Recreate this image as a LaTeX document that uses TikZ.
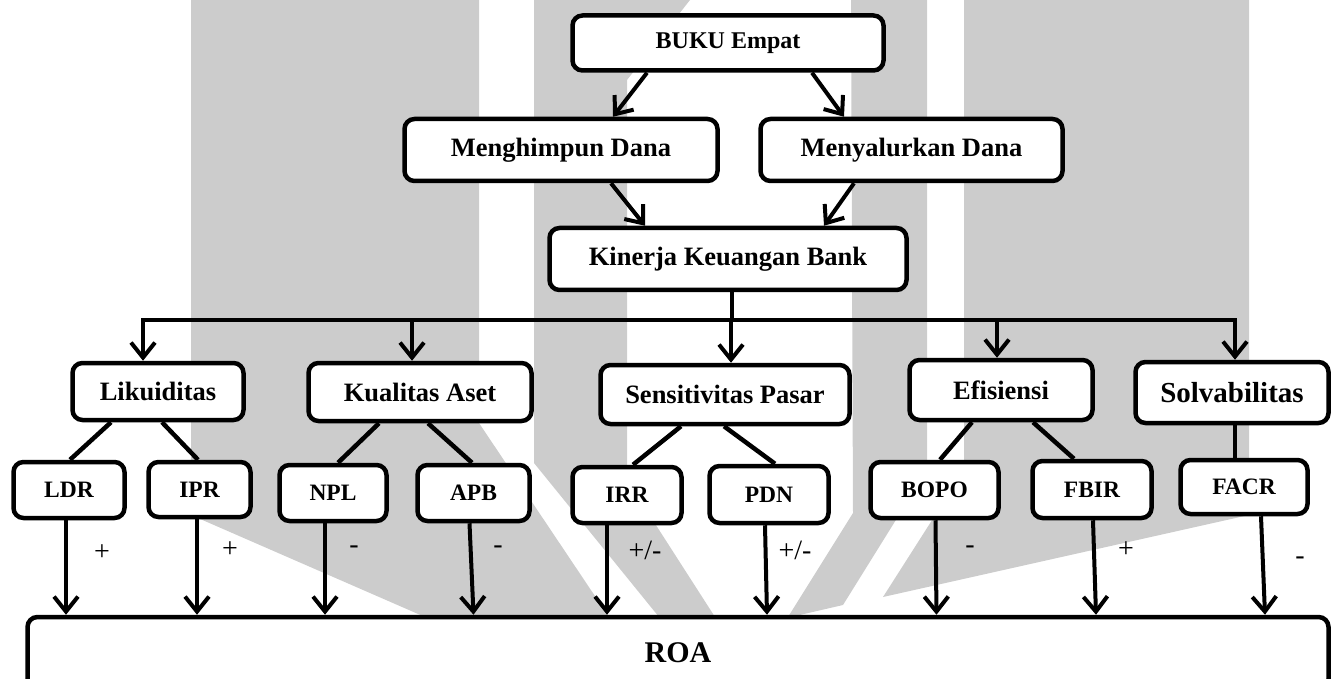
\documentclass[tikz,border=0pt]{standalone}
\usepackage{fontspec}
\setmainfont{Liberation Serif}
\usetikzlibrary{arrows.meta}
\definecolor{wm}{gray}{0.8}
\tikzset{
  box/.style={draw, line width=4.5pt, rounded corners=10pt, fill=white, inner sep=0pt, align=center,
              font=\bfseries\fontsize{26.5}{30}\selectfont},
  smallbox/.style={box, font=\bfseries\fontsize{23.5}{28}\selectfont},
  conn/.style={line width=4.5pt},
  arr/.style={line width=4pt, -{Straight Barb[length=15pt,width=24pt]}},
  sign/.style={font=\fontsize{28}{32}\selectfont, inner sep=0pt},
}
\begin{document}
\begin{tikzpicture}[x=1pt,y=-1pt]
\useasboundingbox (0,0) rectangle (1334,679);
\clip (0,0) rectangle (1334,679);
% watermark
\fill[wm] (191,0) -- (479,0) -- (479,423) -- (609,617) -- (425,617) -- (191,515) -- cycle;
\fill[wm] (534,0) -- (690,0) -- (627,80) -- (627,480) -- (715,617) -- (659,617) -- (534,463) -- cycle;
\fill[wm] (851,0) -- (927,0) -- (927,470) -- (843,605) -- (791,617) -- (788,617) -- (853,513) -- cycle;
\fill[wm] (964,0) -- (1249,0) -- (1249,515) -- (883,597) -- (964,470) -- cycle;

% top nodes
\node[box, minimum width=311pt, minimum height=55pt, font=\bfseries\fontsize{24}{28}\selectfont] (buku) at (728,43) {BUKU Empat};
\node[box, minimum width=313pt, minimum height=62pt] (mengh) at (561,150) {Menghimpun Dana};
\node[box, minimum width=302pt, minimum height=62pt] (menya) at (911.5,150) {Menyalurkan Dana};
\node[box, minimum width=357pt, minimum height=62pt] (kin) at (728,259) {Kinerja Keuangan Bank};

% categories
\node[box, minimum width=171pt, minimum height=57pt] (lik) at (158,391.5) {Likuiditas};
\node[box, minimum width=223pt, minimum height=58pt] (kual) at (420,392) {Kualitas Aset};
\node[box, minimum width=249pt, minimum height=59pt] (sens) at (725,394.5) {Sensitivitas Pasar};
\node[box, minimum width=183pt, minimum height=60pt] (efis) at (1001,390) {Efisiensi};
\node[box, minimum width=193pt, minimum height=61pt, font=\bfseries\fontsize{29}{33}\selectfont] (solv) at (1232,392.5) {Solvabilitas};

% ratios
\node[smallbox, minimum width=111pt, minimum height=56pt] (ldr) at (69,490) {LDR};
\node[smallbox, minimum width=102pt, minimum height=55pt] (ipr) at (199.5,489.5) {IPR};
\node[smallbox, minimum width=107pt, minimum height=56pt] (npl) at (333,493) {NPL};
\node[smallbox, minimum width=112pt, minimum height=56pt] (apb) at (473.5,493) {APB};
\node[smallbox, minimum width=109pt, minimum height=56pt] (irr) at (627,495) {IRR};
\node[smallbox, minimum width=119pt, minimum height=57pt] (pdn) at (769,494.5) {PDN};
\node[smallbox, minimum width=128pt, minimum height=56pt] (bopo) at (934.5,490) {BOPO};
\node[smallbox, minimum width=119pt, minimum height=57pt] (fbir) at (1092,489.5) {FBIR};
\node[smallbox, minimum width=127pt, minimum height=54pt] (facr) at (1244,487) {FACR};

% ROA
\node[box, minimum width=1301pt, minimum height=72pt, font=\bfseries\fontsize{30}{34}\selectfont] (roa) at (678,653) {ROA};

% top arrows
\draw[arr] ([xshift=-81pt]buku.south) -- ([xshift=52pt]mengh.north);
\draw[arr] ([xshift=84pt]buku.south) -- ([xshift=-67.5pt]menya.north);
\draw[arr] ([xshift=50pt]mengh.south) -- ([xshift=-83pt]kin.north);
\draw[arr] ([xshift=-57.5pt]menya.south) -- ([xshift=96pt]kin.north);

% bar
\coordinate (barL) at (143,320);
\coordinate (barR) at (1235,320);
\draw[conn] ([xshift=4pt]kin.south) -- ([xshift=4pt]kin.south |- barL);
\draw[conn, line cap=rect] (barL) -- (barR);
\draw[arr] ([xshift=-15pt]lik.north |- barL) -- ([xshift=-15pt]lik.north);
\draw[arr] ([xshift=-8pt]kual.north |- barL) -- ([xshift=-8pt]kual.north);
\draw[arr] ([xshift=6pt]sens.north |- barL) -- ([xshift=6pt]sens.north);
\draw[arr] ([xshift=-4pt]efis.north |- barL) -- ([xshift=-4pt]efis.north);
\draw[arr] ([xshift=3pt]solv.north |- barL) -- ([xshift=3pt]solv.north);

% category to ratio lines
\draw[conn] ([xshift=-47pt]lik.south) -- ([xshift=1pt]ldr.north);
\draw[conn] ([xshift=4pt]lik.south) -- ([xshift=-1.5pt]ipr.north);
\draw[conn] ([xshift=-41pt]kual.south) -- ([xshift=5pt]npl.north);
\draw[conn] ([xshift=8pt]kual.south) -- ([xshift=-1.5pt]apb.north);
\draw[conn] ([xshift=-44pt]sens.south) -- ([xshift=6pt]irr.north);
\draw[conn] ([xshift=-1pt]sens.south) -- ([xshift=6pt]pdn.north);
\draw[conn] ([xshift=-29pt]efis.south) -- ([xshift=5.5pt]bopo.north);
\draw[conn] ([xshift=32pt]efis.south) -- ([xshift=-18pt]fbir.north);
\draw[conn] ([xshift=3pt]solv.south) -- ([xshift=-9pt]facr.north);

% ratio to ROA arrows
\draw[arr] ([xshift=-3pt]ldr.south) -- ([xshift=-3pt]ldr.south |- roa.north);
\draw[arr] ([xshift=-2.5pt]ipr.south) -- ([xshift=-2.5pt]ipr.south |- roa.north);
\draw[arr] ([xshift=-8pt]npl.south) -- ([xshift=-8pt]npl.south |- roa.north);
\draw[arr] ([xshift=-4pt]apb.south) -- ([xshift=0pt]apb.south |- roa.north);
\draw[arr] ([xshift=-20pt]irr.south) -- ([xshift=-20pt]irr.south |- roa.north);
\draw[arr] ([xshift=-4pt]pdn.south) -- ([xshift=-2pt]pdn.south |- roa.north);
\draw[arr] ([xshift=1pt]bopo.south) -- ([xshift=2pt]bopo.south |- roa.north);
\draw[arr] ([xshift=1pt]fbir.south) -- ([xshift=4pt]fbir.south |- roa.north);
\draw[arr] ([xshift=17pt]facr.south) -- ([xshift=21pt]facr.south |- roa.north);

% signs
\node[sign] (s1) at (102,553) {+};
\node[sign] (s2) at (230,550) {+};
\node[sign] (s3) at (354,550) {-};
\node[sign] (s4) at (498,550) {-};
\node[sign] (s5) at (645,550) {+/-};
\node[sign] (s6) at (795,550) {+/-};
\node[sign] (s7) at (970,550) {-};
\node[sign] (s8) at (1126,550) {+};
\node[sign] (s9) at (1300,561) {-};
\end{tikzpicture}
\end{document}
